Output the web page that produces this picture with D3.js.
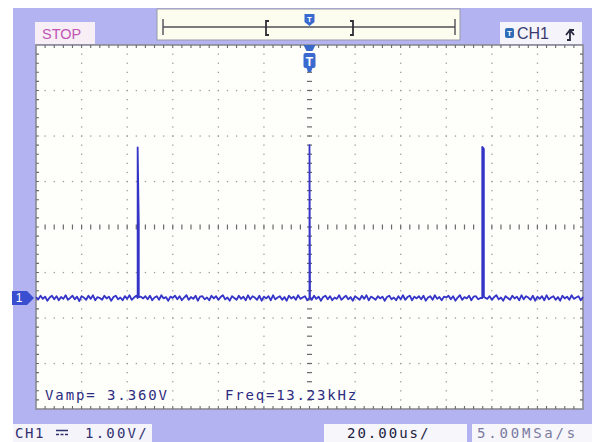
<!DOCTYPE html>
<html><head><meta charset="utf-8">
<script src="https://cdn.jsdelivr.net/npm/d3@7"></script>
<style>html,body{margin:0;padding:0;background:#fff;}svg{display:block;}</style>
</head><body>
<script>
// ---------- data ----------
const timeDomain = [-120, 120];          // µs, 20 µs/div, 12 div
const divDomain = [-4, 4];               // vertical divisions
const voltsPerDiv = 1.0;
const chOffsetDiv = -1.56;               // ground marker position (div)
const noiseStep = 1;                     // µs between noise samples
const noise = [
 0.02,-0.03,0.05,-0.02,0.03,-0.06,0.01,0.05,-0.03,0.04,-0.05,0.02,-0.02,0.06,-0.04,0.00,0.05,-0.03,0.03,-0.07,
 0.04,0.01,-0.04,0.05,-0.02,0.06,-0.05,0.02,0.00,-0.04,0.05,-0.01,0.03,-0.06,0.02,0.05,-0.03,0.01,-0.05,0.04,
-0.02,0.06,-0.04,0.01,0.05,-0.06,0.03,-0.01,0.04,-0.03,0.05,-0.05,0.01,0.04,-0.04,0.06,-0.01,0.02,-0.06,0.03,
 0.00,0.05,-0.03,0.04,-0.05,0.01,0.06,-0.04,0.02,-0.02,0.05,-0.06,0.03,0.04,-0.03,0.01,-0.05,0.05,-0.01,0.04,
-0.04,0.02,0.06,-0.03,0.01,-0.06,0.04,0.00,-0.04,0.05,-0.02,0.03,-0.05,0.06,-0.03,0.04,0.01,-0.04,0.05,-0.06,
 0.03,-0.01,0.04,-0.05,0.06,-0.03,0.01,0.04,-0.04,0.02,-0.06,0.05,-0.01,0.03,-0.04,0.06,-0.02,0.01,0.04,-0.05,
 0.02,-0.04,0.05,-0.02,0.03,-0.06,0.02,0.05,-0.03,0.04,-0.05,0.01,-0.02,0.06,-0.04,0.01,0.05,-0.03,0.02,-0.06,
 0.04,0.00,-0.04,0.05,-0.02,0.06,-0.05,0.03,0.00,-0.04,0.04,-0.01,0.03,-0.06,0.02,0.05,-0.03,0.01,-0.05,0.04,
-0.03,0.06,-0.04,0.02,0.05,-0.05,0.03,-0.01,0.04,-0.03,0.05,-0.06,0.01,0.04,-0.04,0.06,-0.02,0.02,-0.05,0.03,
 0.01,0.05,-0.03,0.04,-0.06,0.01,0.06,-0.04,0.02,-0.01,0.05,-0.05,0.03,0.04,-0.03,0.00,-0.05,0.05,-0.02,0.04,
-0.04,0.02,0.06,-0.03,0.01,-0.06,0.04,0.00,-0.04,0.05,-0.01,0.03,-0.05,0.06,-0.03,0.04,0.01,-0.04,0.05,-0.06,
 0.03,-0.02,0.04,-0.05,0.06,-0.03,0.01,0.04,-0.04,0.02,-0.06,0.05,-0.01,0.03,-0.04,0.06,-0.02,0.01,0.04,-0.05,
 0.02
];
const spikeTimes = [-75.4, 0.0, 75.8];   // µs
const spikePeak  = [3.31, 3.36, 3.32];   // V
const spikeNext  = [1.65, 0.35, 3.28];   // V, sample after peak
const spikeWidth = [0.5, 0.2, 0.7];      // µs, time to next sample
const vampText = "Vamp= 3.360V";
const freqText = "Freq=13.23kHz";
const chScaleText = "1.00V/";
const timebaseText = "20.00us/";
const sampleRateText = "5.00MSa/s";
const statusText = "STOP";
const channelText = "CH1";

// ---------- layout ----------
const W = 592, H = 442;
const P = {x0: 36, x1: 583, y0: 45, y1: 409};
const x = d3.scaleLinear().domain(timeDomain).range([P.x0, P.x1]);
const gy = d3.scaleLinear().domain(divDomain).range([P.y1, P.y0]);
const yv = v => gy(v / voltsPerDiv + chOffsetDiv);

const svg = d3.select("body").append("svg").attr("width", W).attr("height", H);
const MONO = "'DejaVu Sans Mono', 'Liberation Mono', monospace";
const SANS = "'Liberation Sans', Arial, sans-serif";

// background
svg.append("rect").attr("width", W).attr("height", H).attr("fill", "#ffffff");
svg.append("rect").attr("x", 13).attr("y", 8).attr("width", W - 13).attr("height", H - 8).attr("fill", "#b3b3f2");

// plot area
svg.append("rect").attr("x", P.x0).attr("y", P.y0).attr("width", P.x1 - P.x0).attr("height", P.y1 - P.y0)
  .attr("fill", "#fefefa").attr("stroke", "#8a8a94").attr("stroke-width", 1.6);

const g = svg.append("g");
const minorT = d3.range(timeDomain[0], timeDomain[1] + 0.001, 4);
const minorD = d3.range(divDomain[0], divDomain[1] + 0.001, 0.2);
const majorT = d3.range(-100, 101, 20).filter(t => t !== 0);
const majorD = d3.range(-3, 4, 1).filter(d => d !== 0);
majorT.forEach(t => {
  g.selectAll(null).data(minorD.slice(1, -1)).join("rect")
    .attr("x", x(t) - 0.6).attr("y", d => gy(d) - 0.6).attr("width", 1.3).attr("height", 1.3).attr("fill", "#9c9c9c");
});
majorD.forEach(dv => {
  g.selectAll(null).data(minorT.slice(1, -1)).join("rect")
    .attr("x", t => x(t) - 0.6).attr("y", gy(dv) - 0.6).attr("width", 1.3).attr("height", 1.3).attr("fill", "#9c9c9c");
});
g.selectAll(null).data(minorD.slice(1, -1)).join("line")
  .attr("x1", x(0) - 2.5).attr("x2", x(0) + 2.5).attr("y1", d => gy(d)).attr("y2", d => gy(d))
  .attr("stroke", "#6a6a6a").attr("stroke-width", 1.2);
g.selectAll(null).data(minorT.slice(1, -1)).join("line")
  .attr("y1", gy(0) - 2.5).attr("y2", gy(0) + 2.5).attr("x1", t => x(t)).attr("x2", t => x(t))
  .attr("stroke", "#6a6a6a").attr("stroke-width", 1.2);
g.selectAll(null).data(minorT.slice(1, -1)).join("path")
  .attr("d", t => `M${x(t)},${P.y0}v3M${x(t)},${P.y1}v-3`).attr("stroke", "#6a6a6a").attr("stroke-width", 1.1);
g.selectAll(null).data(minorD.slice(1, -1)).join("path")
  .attr("d", d => `M${P.x0},${gy(d)}h3M${P.x1},${gy(d)}h-3`).attr("stroke", "#6a6a6a").attr("stroke-width", 1.1);

// trace
const pts = noise.map((v, i) => [timeDomain[0] + i * noiseStep, v])
  .filter(p => !spikeTimes.some((t, i) => p[0] >= t - 0.5 && p[0] <= t + spikeWidth[i] + 0.5));
spikeTimes.forEach((t, i) => {
  const w = spikeWidth[i];
  pts.push([t - 0.001, 0.0], [t, spikePeak[i]], [t + w, spikeNext[i]], [t + w + 0.001, 0.02]);
});
pts.sort((a, b) => a[0] - b[0]);
const line = d3.line().x(d => x(d[0])).y(d => yv(d[1]));
svg.append("path").attr("d", line(pts)).attr("fill", "none")
  .attr("stroke", "#3434c8").attr("stroke-width", 1.8).attr("stroke-linejoin", "round");

// measurement texts
svg.append("text").attr("x", 45).attr("y", 400).text(vampText)
  .attr("font-family", MONO).attr("font-size", 14).attr("letter-spacing", 1.9).attr("fill", "#2c2c80");
svg.append("text").attr("x", 225).attr("y", 400).text(freqText)
  .attr("font-family", MONO).attr("font-size", 14).attr("letter-spacing", 1.8).attr("fill", "#2c2c80");

// ground marker "1"
const gyGround = yv(0);
svg.append("path").attr("d", `M12,${gyGround - 7}h15l7,7l-7,7h-15z`).attr("fill", "#3a4ed0");
svg.append("text").attr("x", 19).attr("y", gyGround + 4.5).text("1").attr("font-family", SANS)
  .attr("font-size", 12).attr("fill", "#fff").attr("text-anchor", "middle");

// trigger marker below top border
const tx = x(0);
svg.append("path").attr("d", `M${tx - 6},${P.y0}h12l-3,6h-6z`).attr("fill", "#3a68c8");
svg.append("rect").attr("x", tx - 6).attr("y", 53).attr("width", 12).attr("height", 15).attr("rx", 2).attr("fill", "#3a6ad0");
svg.append("path").attr("d", `M${tx - 3},68h6l-1.5,4h-3z`).attr("fill", "#3a6ad0");
svg.append("text").attr("x", tx).attr("y", 65.5).text("T").attr("font-family", SANS).attr("font-weight", "bold")
  .attr("font-size", 12).attr("fill", "#fff").attr("text-anchor", "middle");

// top memory bar
svg.append("rect").attr("x", 157).attr("y", 9).attr("width", 303).attr("height", 31).attr("fill", "#fcfcef").attr("stroke", "#9a9aa8");
svg.append("path").attr("d", "M163,27H455M163,19V35M455,19V35").attr("stroke", "#505058").attr("stroke-width", 1.4).attr("fill", "none");
svg.append("path").attr("d", "M269,21h-3v14h3M350,21h3v14h-3").attr("stroke", "#303038").attr("stroke-width", 1.8).attr("fill", "none");
svg.append("path").attr("d", `M${tx - 5},14h10v8l-5,4l-5,-4z`).attr("fill", "#3a6ad0");
svg.append("text").attr("x", tx).attr("y", 22).text("T").attr("font-family", SANS).attr("font-weight", "bold")
  .attr("font-size", 8).attr("fill", "#fff").attr("text-anchor", "middle");

// STOP box
svg.append("rect").attr("x", 35).attr("y", 22).attr("width", 60).attr("height", 22).attr("fill", "#f8eef6");
svg.append("text").attr("x", 42).attr("y", 39).text(statusText).attr("font-family", SANS)
  .attr("font-size", 14.5).attr("fill", "#c055b4");

// CH1 box (top right)
svg.append("rect").attr("x", 500).attr("y", 22).attr("width", 82).attr("height", 22).attr("fill", "#f4f4fa");
svg.append("rect").attr("x", 505).attr("y", 28).attr("width", 9).attr("height", 10).attr("rx", 2).attr("fill", "#2e6cb8");
svg.append("text").attr("x", 509.5).attr("y", 36).text("T").attr("font-family", SANS).attr("font-weight", "bold")
  .attr("font-size", 8).attr("fill", "#fff").attr("text-anchor", "middle");
svg.append("text").attr("x", 517).attr("y", 39).text(channelText).attr("font-family", SANS)
  .attr("font-size", 16).attr("fill", "#3a3a70");
svg.append("path").attr("d", "M567,40h3v-10h4M566,35l4,-5l4,5").attr("stroke", "#2a2a40").attr("stroke-width", 1.8).attr("fill", "none");

// bottom boxes
const by = 424, bh = 18, bBase = 438;
svg.append("rect").attr("x", 13).attr("y", by).attr("width", 139).attr("height", bh).attr("fill", "#f4f4fa");
svg.append("text").attr("x", 15).attr("y", bBase).text(channelText).attr("font-family", MONO)
  .attr("font-size", 14).attr("letter-spacing", 1.6).attr("fill", "#303070");
svg.append("path").attr("d", "M56,430.5h12M56,434.5h3M60.5,434.5h3M65,434.5h3").attr("stroke", "#303070").attr("stroke-width", 1.3);
svg.append("text").attr("x", 85).attr("y", bBase).text(chScaleText).attr("font-family", MONO)
  .attr("font-size", 14).attr("letter-spacing", 2.2).attr("fill", "#303070");

svg.append("rect").attr("x", 324).attr("y", by).attr("width", 143).attr("height", bh).attr("fill", "#f6f6fb");
svg.append("text").attr("x", 347).attr("y", bBase).text(timebaseText).attr("font-family", MONO)
  .attr("font-size", 14).attr("letter-spacing", 2.0).attr("fill", "#202040");

svg.append("rect").attr("x", 472).attr("y", by).attr("width", 120).attr("height", bh).attr("fill", "#f6f6fb");
svg.append("text").attr("x", 477).attr("y", bBase).text(sampleRateText).attr("font-family", MONO)
  .attr("font-size", 14).attr("letter-spacing", 2.8).attr("fill", "#7a7aa0");
</script>
</body></html>
